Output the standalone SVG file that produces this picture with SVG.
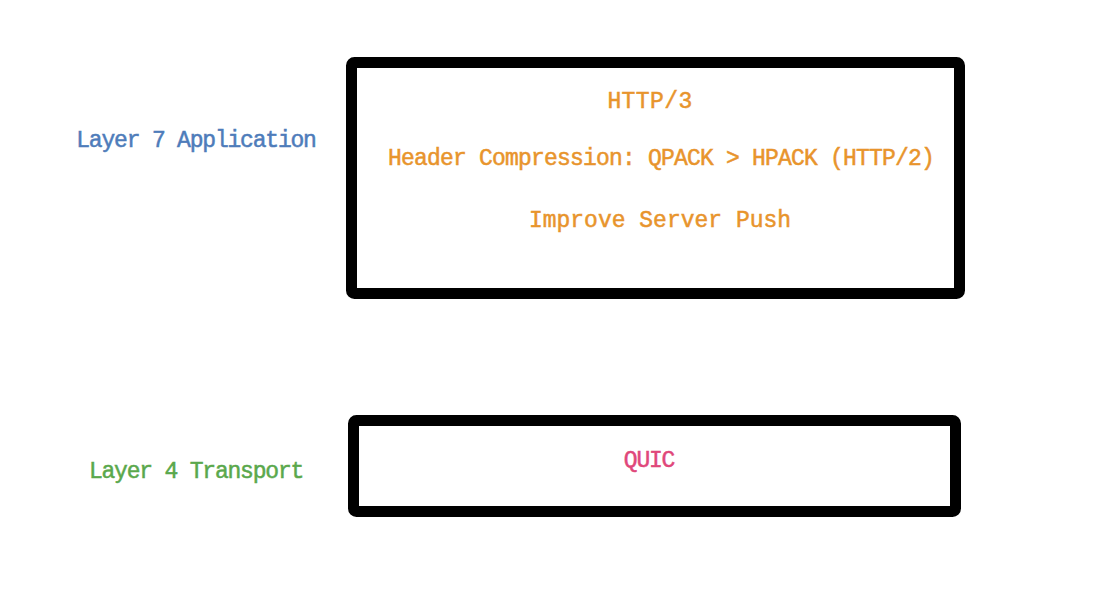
<svg xmlns="http://www.w3.org/2000/svg" width="1105" height="608" viewBox="0 0 1105 608">
<style>
.box{fill:none;stroke:#000;stroke-width:11;stroke-linejoin:round}
text{font-family:"Liberation Mono","DejaVu Sans Mono",monospace;font-size:23px;letter-spacing:-1.2px;text-anchor:middle;stroke-width:0.5px}
.o{fill:#e8942c;stroke:#e8942c}
</style>
<rect width="1105" height="608" fill="#fff"/>
<g id="label-l7"><text x="196" y="147" fill="#4e7cba" stroke="#4e7cba">Layer 7 Application</text></g>
<g id="label-l4"><text x="196" y="478" fill="#5aa84c" stroke="#5aa84c">Layer 4 Transport</text></g>
<g id="app-box">
<rect class="box" x="351.5" y="62.5" width="608" height="231" rx="3"/>
<text class="o" x="650" y="108" style="letter-spacing:0.4px">HTTP/3</text>
<text class="o" x="661" y="165" style="letter-spacing:-0.8px">Header Compression: QPACK &gt; HPACK (HTTP/2)</text>
<text class="o" x="660" y="227" style="letter-spacing:0px">Improve Server Push</text>
</g>
<g id="transport-box">
<rect class="box" x="353.5" y="420.5" width="602" height="91" rx="3"/>
<text x="649" y="467" fill="#e0477a" stroke="#e0477a">QUIC</text>
</g>
<g id="connectors"></g>
</svg>
